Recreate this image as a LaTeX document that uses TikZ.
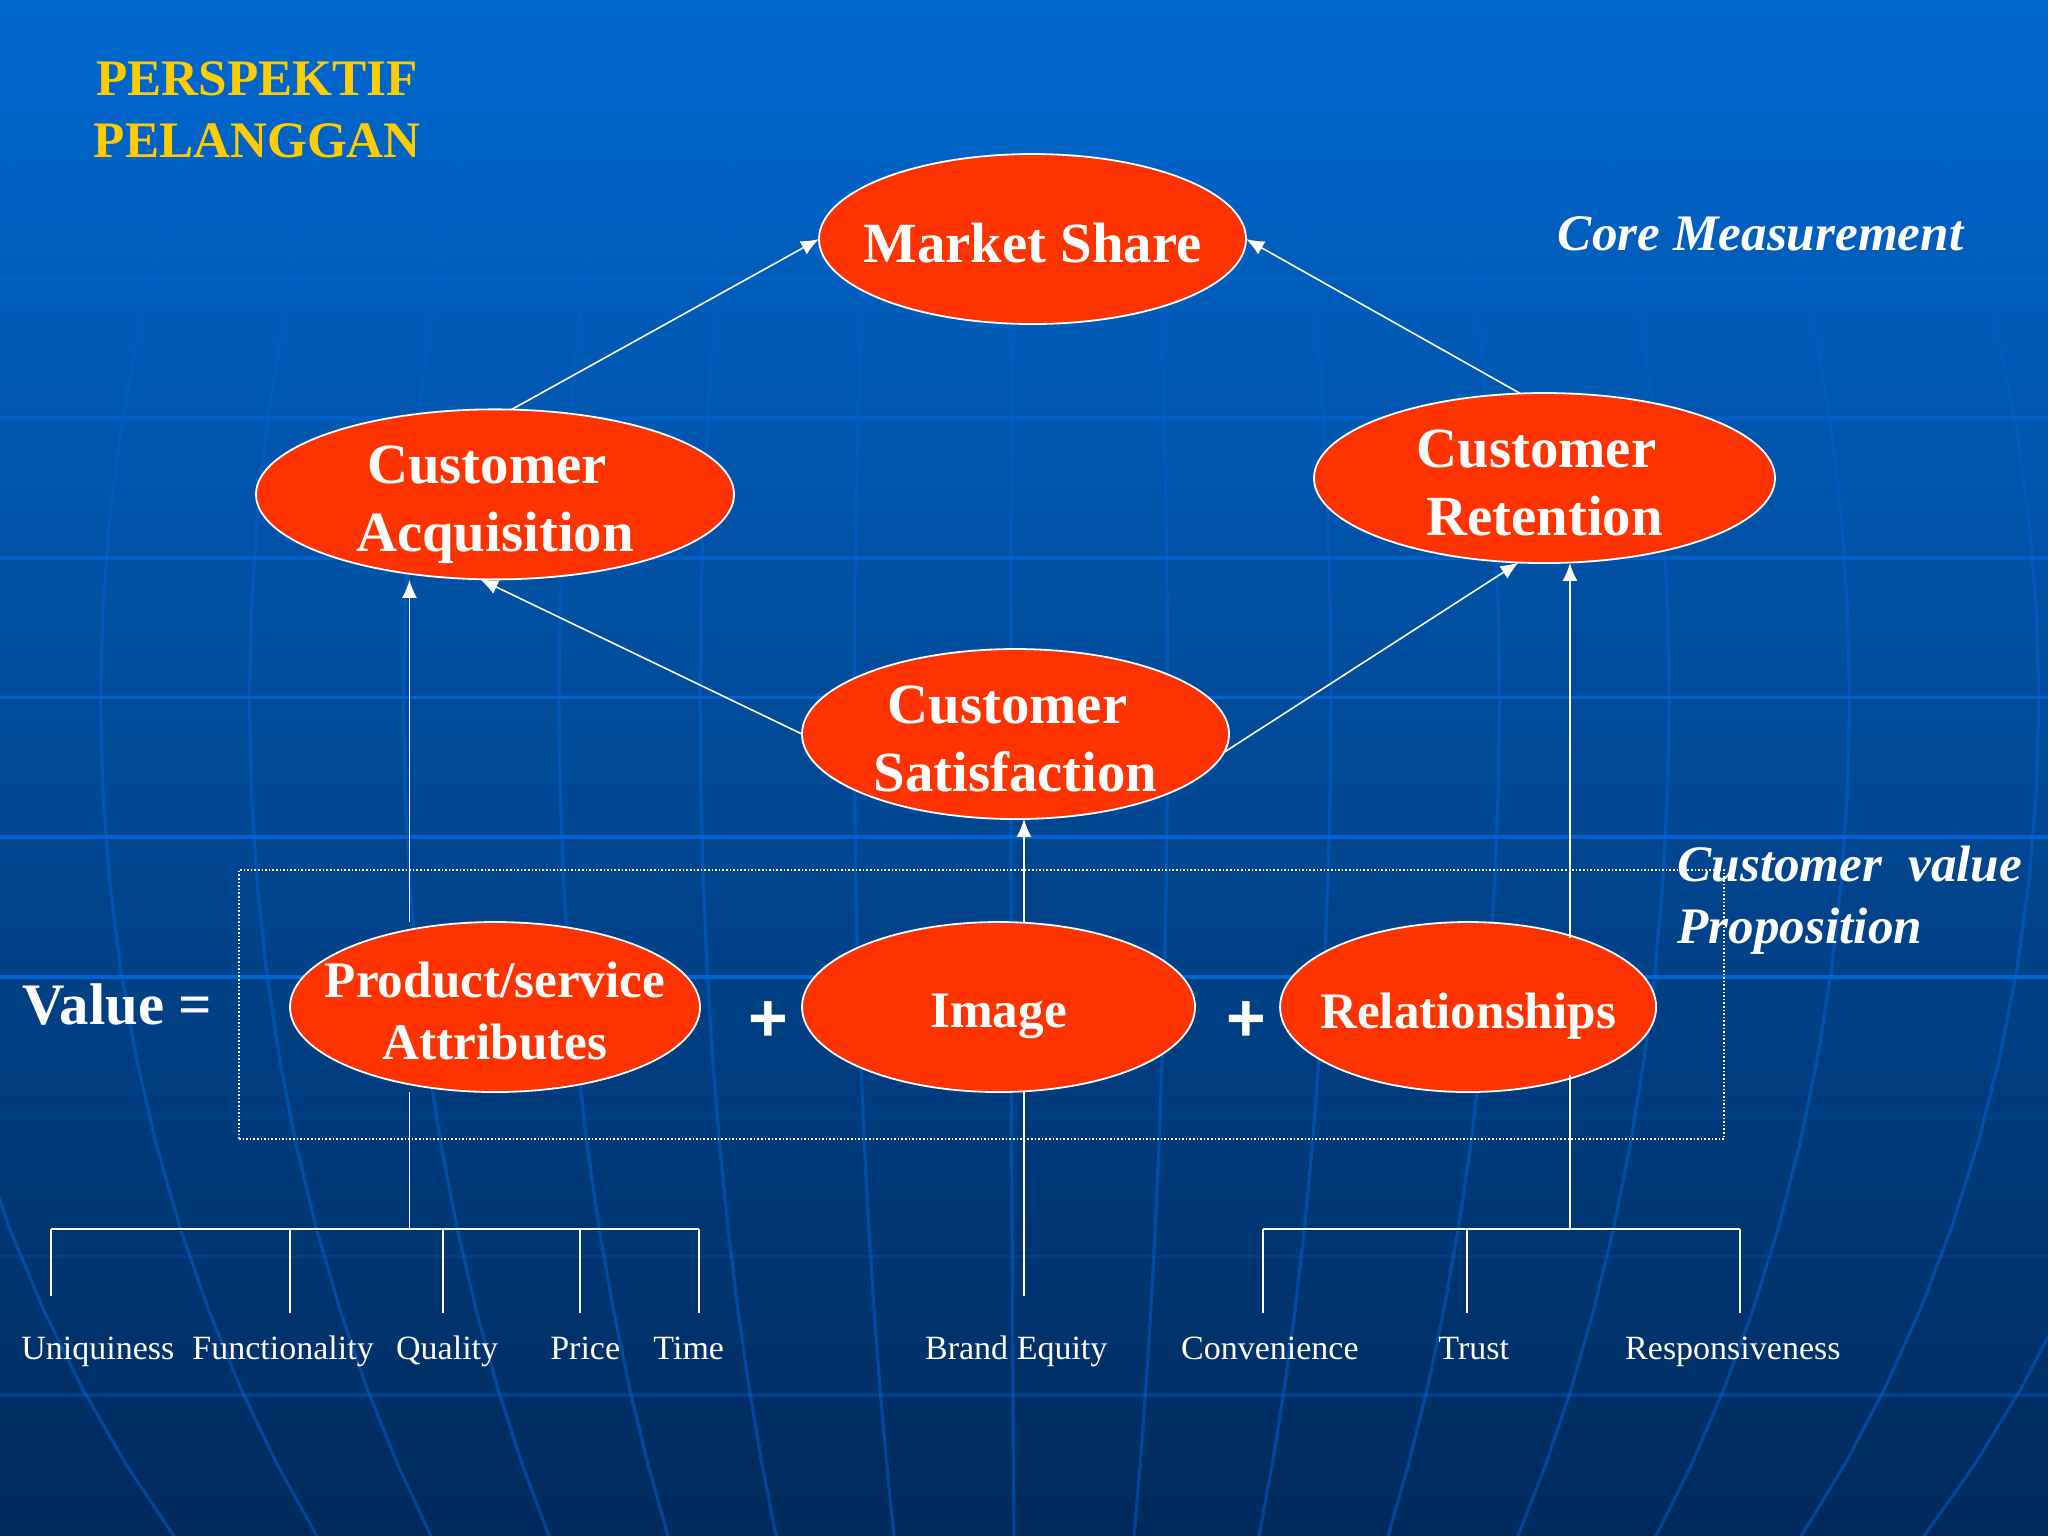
\documentclass[tikz,border=0pt]{standalone}
\usepackage{fontspec}
\setmainfont{Liberation Serif}
\setsansfont{Liberation Sans}
\usetikzlibrary{arrows.meta,shapes.geometric}
\definecolor{ovalred}{RGB}{255,51,0}
\definecolor{titleyel}{RGB}{255,204,0}
\definecolor{gridblue}{RGB}{0,104,222}
\definecolor{bgtop}{RGB}{0,104,208}
\definecolor{bgbot}{RGB}{0,42,92}
\tikzstyle{aS}=[every edge/.style={draw=white,line width=.8pt,-{Latex[length=9pt,width=7.5pt]}}]
\tikzstyle{aL}=[every edge/.style={draw=white,line width=.8pt,-}]
\tikzstyle{Aoval}=[draw=white,line width=.9pt,fill=ovalred,ellipse,inner sep=0,outer sep=0,minimum height=85pt]
\tikzstyle{Abig}=[text=white,align=center,font=\bfseries\fontsize{28.4}{34}\selectfont]
\tikzstyle{Amid}=[text=white,align=center,font=\bfseries\fontsize{25.6}{30.7}\selectfont]
\tikzstyle{Aital}=[text=white,align=left,font=\bfseries\itshape\fontsize{25.6}{30.7}\selectfont]
\tikzstyle{Aleaf}=[text=white,anchor=base west,inner sep=0,font=\fontsize{17}{20}\selectfont]
\tikzstyle{Aplus}=[text=white,font=\sffamily\bfseries\fontsize{34}{40}\selectfont]
\tikzstyle{Abox}=[draw=white,densely dotted,line width=.8pt,minimum width=742.5pt,minimum height=134.5pt]
\newcommand{\ovl}[6]{\node[Aoval,minimum width=#4] (#1) at (#2,#3) {};\node[#5] (#1t) at (#1) {#6};}
\newcommand{\drp}[4]{\coordinate (#1e) at (#2,#3);\path[aL] (#1e |- #4) edge (#1e);}
\begin{document}
\begin{tikzpicture}[x=0.653pt,y=-0.653pt]
  \useasboundingbox (0,0) rectangle (1568,1176);
  \shade[top color=bgtop,bottom color=bgbot] (0,0) rectangle (1568,1176);
  % globe behind the slide
  \begin{scope}
    \clip (0,0) rectangle (1568,1176);
    \foreach \y/\op in {213/.3,320/.45,427/.6,534/.75,641/.85,748/.9,855/.1,962/.2,1068/.3}
      \draw[gridblue,line width=1.8pt,opacity=\op] (0,\y) -- (1568,\y);
    \foreach \a in {-850,-707,-593,-475,-356,-248,-130,-10,110,235,364,494,632,777,900}
      \foreach \t in {-36,-32,...,44} {
        \pgfmathsetmacro{\op}{min(.45,max(0,(\t+34)/70))}
        \draw[gridblue,line width=1.6pt,opacity=\op] ({784+\a*cos(\t)},{536+995*sin(\t)}) -- ({784+\a*cos(\t+4)},{536+995*sin(\t+4)});
      }
  \end{scope}

  \node[Abox] (valbox) at (751.5,769) {};
  \ovl{market}{790.5}{183}{213.5pt}{Abig,yshift=-2pt}{Market Share}
  \ovl{acq}{379}{378.5}{239pt}{Abig,yshift=-5.2pt}{Customer\hspace*{8pt}\\Acquisition}
  \ovl{ret}{1182.5}{366}{230.5pt}{Abig,yshift=-2.6pt}{Customer\hspace*{8pt}\\Retention}
  \ovl{sat}{777.5}{562}{213.5pt}{Abig,yshift=-2.6pt}{Customer\hspace*{8pt}\\Satisfaction}
  \ovl{prod}{379}{771}{205pt}{Amid,yshift=-2pt}{Product/service\\Attributes}
  \ovl{img}{764.5}{771}{196.5pt}{Amid,yshift=-4.6pt}{Image}
  \ovl{rel}{1124}{771}{188pt}{Amid,yshift=-4.6pt}{Relationships}

  \node[Amid,text=titleyel] (title) at (197,84) {PERSPEKTIF\\PELANGGAN};
  \node[Aital] (core) at (1348,179) {Core Measurement};
  \node[Aital,anchor=base west,inner sep=0] (prop) at (1284,722) {Customer\hspace{13pt}value\\Proposition};
  \node[Abig,anchor=base west,inner sep=0,font=\bfseries\fontsize{29.4}{34}\selectfont] (val) at (17,784) {Value =};
  \node[Aplus] (plusa) at (588,782) {+};
  \node[Aplus] (plusb) at (954,782) {+};

  \coordinate (foota) at (313.5,444);
  \coordinate (footb) at (784,627);
  \coordinate (footc) at (1202,431);
  \coordinate (joina) at (313.5,941);
  \coordinate (joinc) at (1202,941);
  \coordinate (topc) at (1202,718);
  \coordinate (botc) at (1202,823);
  \path[aS] (acq.79) edge (market.west) (ret.106) edge (market.east);
  \path[aS] (sat.west) edge (acq.260) (sat.-5) edge (ret.253);
  \path[aS] (prod.north -| foota) edge (foota) (img.north -| footb) edge (footb) (topc) edge (footc);
  \path[aL] (prod.south -| joina) edge (joina) (botc) edge (joinc);

  % trees under the three ovals
  \drp{uni}{39}{992}{joina}
  \drp{fun}{222}{1005}{joina}
  \drp{qua}{339}{1005}{joina}
  \drp{pri}{444}{1005}{joina}
  \drp{tim}{535}{1005}{joina}
  \drp{bra}{784}{992}{img.south}
  \drp{con}{967}{1005}{joinc}
  \drp{tru}{1123}{1005}{joinc}
  \drp{res}{1332}{1005}{joinc}
  \path[aL] (unie |- joina) edge (time |- joina) (cone |- joinc) edge (rese |- joinc);

  \node[Aleaf] (uni) at (16,1041) {Uniquiness};
  \node[Aleaf] (fun) at (147,1041) {Functionality};
  \node[Aleaf] (qua) at (303,1041) {Quality};
  \node[Aleaf] (pri) at (421,1041) {Price};
  \node[Aleaf] (tim) at (500,1041) {Time};
  \node[Aleaf] (bra) at (708,1041) {Brand Equity};
  \node[Aleaf] (con) at (904,1041) {Convenience};
  \node[Aleaf] (tru) at (1101,1041) {Trust};
  \node[Aleaf] (res) at (1244,1041) {Responsiveness};
\end{tikzpicture}
\end{document}
